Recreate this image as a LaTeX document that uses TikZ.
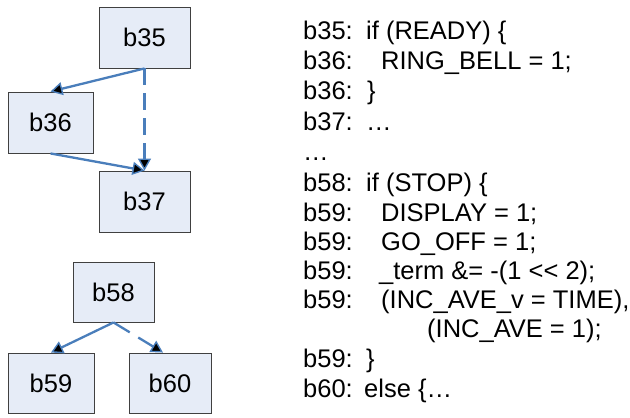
\documentclass[tikz,border=0pt]{standalone}
\usepackage{fontspec}
\setmainfont{Liberation Sans}
\usetikzlibrary{arrows.meta}
\definecolor{edgeblue}{HTML}{4A7EBB}
\definecolor{boxfill}{HTML}{E6ECF7}
\definecolor{boxline}{HTML}{404040}
\begin{document}
\begin{tikzpicture}[x=1pt,y=-1pt,
  bb/.style={draw=boxline,line width=0.9pt,fill=boxfill,inner sep=0pt,
    font=\fontsize{25.5}{30}\selectfont},
  flow/.style={draw=edgeblue,line width=2.3pt,
    -{Triangle[length=12pt,width=13pt,fill=black,line width=1.4pt]}},
  skip/.style={flow,dash pattern=on 17pt off 8pt},
  code/.style={anchor=base west,inner sep=0pt,font=\fontsize{25.5}{30}\selectfont}]
\useasboundingbox (0,0) rectangle (630,418);
\fill[white] (0,0) rectangle (630,418);

% flow graph of basic blocks
\node[bb,minimum width=91pt,minimum height=61pt] (b35) at (144.5,37.5) {b35};
\node[bb,minimum width=85pt,minimum height=61pt] (b36) at (50.5,122.5) {b36};
\node[bb,minimum width=91pt,minimum height=61pt] (b37) at (144.5,201.5) {b37};
\node[bb,minimum width=81pt,minimum height=60pt] (b58) at (113.5,292) {b58};
\node[bb,minimum width=86pt,minimum height=60pt] (b59) at (51,383) {b59};
\node[bb,minimum width=82pt,minimum height=60pt] (b60) at (170,383) {b60};

\draw[flow] (b35.south) -- (b36.north);
\draw[skip] (b35.south) -- (b37.north);
\draw[flow] (b36.south) -- (b37.north);
\draw[flow] (b58.south) -- (b59.north);
\draw[skip,dash pattern=on 19pt off 10pt] (b58.south) -- ([xshift=-7pt]b60.north);

% annotated source listing
\node[code] (l1)  at (303,39)  {b35:};
\node[code] (c1)  at (366,39)  {if (READY) \{};
\node[code] (l2)  at (303,69)  {b36:};
\node[code] (c2)  at (381,69)  {RING\_BELL = 1;};
\node[code] (l3)  at (303,99)  {b36:};
\node[code] (c3)  at (367,99)  {\}};
\node[code] (l4)  at (303,130) {b37:};
\node[code] (c4)  at (366,130) {…};
\node[code] (l5)  at (303,160) {…};
\node[code] (l6)  at (303,191) {b58:};
\node[code] (c6)  at (366,191) {if (STOP) \{};
\node[code] (l7)  at (303,221) {b59:};
\node[code] (c7)  at (381,221) {DISPLAY = 1;};
\node[code] (l8)  at (303,250) {b59:};
\node[code] (c8)  at (381,250) {GO\_OFF = 1;};
\node[code] (l9)  at (303,279) {b59:};
\node[code] (c9)  at (379,279) {\_term \&= -(1 <\kern0pt< 2);};
\node[code] (l10) at (303,308) {b59:};
\node[code] (c10) at (381,308) {(INC\_AVE\_v = TIME),};
\node[code] (c11) at (427,337) {(INC\_AVE = 1);};
\node[code] (l12) at (303,367) {b59:};
\node[code] (c12) at (366,367) {\}};
\node[code] (l13) at (303,397) {b60:};
\node[code] (c13) at (364,397) {else \{…};
\end{tikzpicture}
\end{document}
